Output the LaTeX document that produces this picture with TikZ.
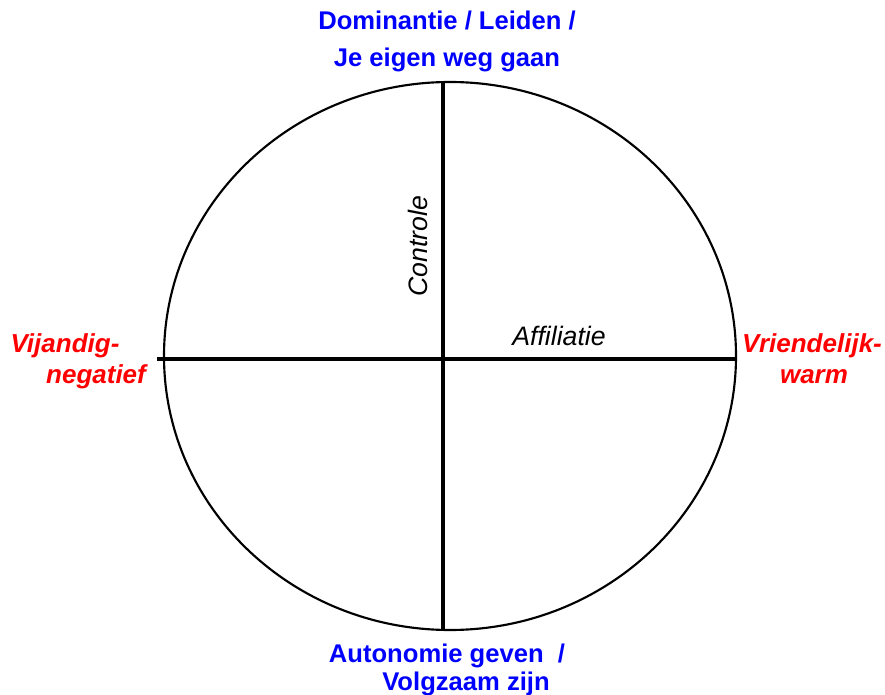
\documentclass[tikz,border=0pt]{standalone}
\usepackage{fontspec}
\setmainfont{Liberation Sans}
\usetikzlibrary{calc}

\begin{document}
\begin{tikzpicture}[x=0.75pt, y=-0.75pt]

    % --- Parameters (in pixels of the original picture) ---
    \def\cx{450}      % middelpunt cirkel, x
    \def\cy{356}      % middelpunt cirkel, y
    \def\rx{286}      % straal horizontaal
    \def\ry{274}      % straal verticaal
    \def\ax{443}      % verticale as
    \def\ay{359}      % horizontale as

    \tikzset{
        pool/.style={font=\fontsize{19.2}{23}\selectfont\bfseries, text=blue, anchor=base, inner sep=0pt},
        poolrood/.style={font=\fontsize{19.5}{23}\selectfont\bfseries\itshape, text=red, anchor=base, inner sep=0pt},
        aslabel/.style={font=\fontsize{20}{23}\selectfont\itshape, text=black, anchor=base, inner sep=0pt}
    }

    \useasboundingbox (0,0) rectangle (885,695);

    % =========================================================================
    % CIRKEL EN ASSEN
    % =========================================================================

    % 1. Cirkel
    \draw[line width=1.6pt] (\cx,\cy) ellipse [x radius=\rx, y radius=\ry];

    % 2. Assen
    \coordinate (top) at (\ax,82);
    \coordinate (bottom) at (\ax,631);
    \coordinate (left) at (157,\ay);
    \coordinate (right) at (737,\ay);
    \draw[line width=3.2pt] (top) -- (bottom);
    \draw[line width=3.2pt] (left) -- (right);

    % 3. Namen van de assen
    \node[aslabel, rotate=90] (controle) at (427,246) {Controle};
    \node[aslabel] (affiliatie) at (559,345) {Affiliatie};

    % =========================================================================
    % POLEN
    % =========================================================================

    % 4. Boven
    \node[pool] (dom) at (447,30) {Dominantie / Leiden /};
    \node[pool] (eigen) at (447,67) {Je eigen weg gaan};

    % 5. Onder
    \node[pool] (auto) at (447,662) {Autonomie geven~~/};
    \node[pool] (volg) at (466,690) {Volgzaam zijn};

    % 6. Links
    \node[poolrood] (vij) at (65,352) {Vijandig-};
    \node[poolrood] (neg) at (96,383) {negatief};

    % 7. Rechts
    \node[poolrood] (vri) at (812,352) {Vriendelijk-};
    \node[poolrood] (warm) at (814,383) {warm};

\end{tikzpicture}
\end{document}
